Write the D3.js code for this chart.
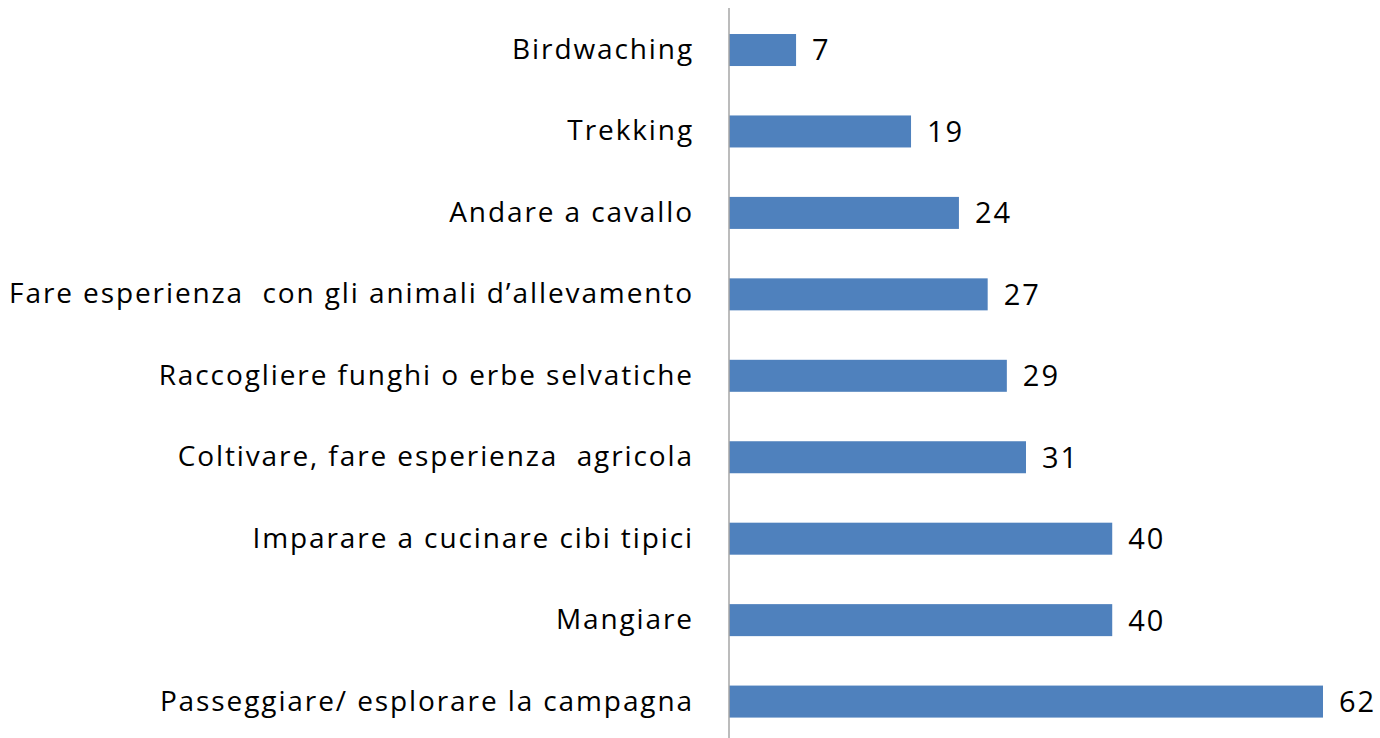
<!DOCTYPE html>
<html>
<head>
<meta charset="utf-8">
<script src="https://cdn.jsdelivr.net/npm/d3@7"></script>
<style>
  html, body { margin: 0; padding: 0; background: #fff; }
  text { font-family: "Open Sans", Lato, sans-serif; fill: #000; white-space: pre; font-variant-ligatures: none; }
</style>
</head>
<body>
<div id="chart"></div>
<script>
// Data
const categories = [
  'Birdwaching',
  'Trekking',
  'Andare a cavallo',
  'Fare esperienza  con gli animali d\u2019allevamento',
  'Raccogliere funghi o erbe selvatiche',
  'Coltivare, fare esperienza  agricola',
  'Imparare a cucinare cibi tipici',
  'Mangiare',
  'Passeggiare/ esplorare la campagna'
]
const values = [7, 19, 24, 27, 29, 31, 40, 40, 62]

const width = 1380
const height = 738

let svg = d3.select('#chart').append('svg')
  .attr('width', width)
  .attr('height', height)

// Scales
let x = d3.scaleLinear()
  .domain([0, 62])
  .range([729, 1323])

let y = d3.scaleBand()
  .domain(categories)
  .range([9.3, 742.3])
  .paddingInner(0.607)
  .paddingOuter(0.3035)

// Bars
svg.selectAll('rect.bar')
  .data(values)
  .enter().append('rect')
  .attr('class', 'bar')
  .attr('x', x(0))
  .attr('y', (d, i) => y(categories[i]))
  .attr('width', d => x(d) - x(0))
  .attr('height', y.bandwidth())
  .attr('fill', '#4f81bd')

// Value labels
svg.selectAll('text.value')
  .data(values)
  .enter().append('text')
  .attr('class', 'value')
  .attr('x', d => x(d) + 16)
  .attr('y', (d, i) => y(categories[i]) + y.bandwidth() / 2)
  .attr('dy', '0.36em')
  .style('font-size', '29px')
  .style('letter-spacing', '2px')
  .text(d => d)

// Category axis
let axis = d3.axisLeft(y).tickSize(0).tickPadding(35)
let g = svg.append('g')
  .attr('transform', `translate(${x(0)},0)`)
  .call(axis)
g.select('.domain').remove()
g.selectAll('text')
  .style('font-size', '28px')
  .style('letter-spacing', '1.9px')
  .style('font-family', '"Open Sans", Lato, sans-serif')
  .attr('fill', '#000')

// Vertical axis line
svg.append('line')
  .attr('x1', x(0)).attr('x2', x(0))
  .attr('y1', 8).attr('y2', height)
  .attr('stroke', '#a6a6a6')
  .attr('stroke-width', 1.5)
</script>
</body>
</html>
